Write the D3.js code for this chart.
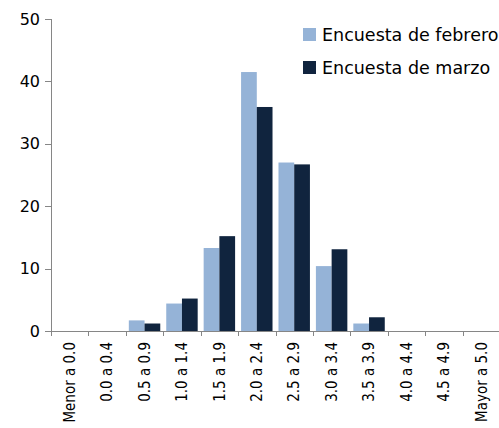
<!DOCTYPE html>
<meta charset="utf-8">
<style>
body { margin: 0; background: #fff; }
.axis path, .axis line { fill: none; stroke: #868686; stroke-width: 1px; shape-rendering: crispEdges; }
.axis text { font-family: "DejaVu Sans", sans-serif; fill: #000; }
.legend text { font-family: "DejaVu Sans", sans-serif; font-size: 17.5px; fill: #000; }
</style>
<svg width="499" height="428"></svg>
<script src="https://d3js.org/d3.v7.min.js"></script>
<script>
var categories = ["Menor a 0.0", "0.0 a 0.4", "0.5 a 0.9", "1.0 a 1.4", "1.5 a 1.9", "2.0 a 2.4",
                  "2.5 a 2.9", "3.0 a 3.4", "3.5 a 3.9", "4.0 a 4.4", "4.5 a 4.9", "Mayor a 5.0"];
var series = ["Encuesta de febrero", "Encuesta de marzo"];
var febrero = [0, 0, 1.7, 4.4, 13.3, 41.5, 27.0, 10.4, 1.2, 0, 0, 0];
var marzo = [0, 0, 1.2, 5.2, 15.2, 35.9, 26.7, 13.1, 2.2, 0, 0, 0];
var yTicks = [0, 10, 20, 30, 40, 50];
var colors = ["#95b3d7", "#10243e"];

var svg = d3.select("svg"),
    margin = {top: 19, right: -1, bottom: 97, left: 51},
    width = +svg.attr("width") - margin.left - margin.right,
    height = +svg.attr("height") - margin.top - margin.bottom;

var g = svg.append("g")
    .attr("transform", "translate(" + margin.left + "," + margin.top + ")");

var x0 = d3.scaleBand().domain(categories).range([0, width]);
var x1 = d3.scaleBand().domain(series).range([0, x0.bandwidth()]).paddingOuter(0.19);
var y = d3.scaleLinear().domain([0, 50]).range([height, 0]);

var data = categories.map(function(c, i) {
  return {cat: c, values: [{s: series[0], v: febrero[i]}, {s: series[1], v: marzo[i]}]};
});

// y axis
var yAxis = g.append("g")
    .attr("class", "axis")
    .call(d3.axisLeft(y).tickValues(yTicks).tickSizeOuter(0).tickSize(6).tickPadding(5));
yAxis.selectAll("text").style("font-size", "16px");

// bars
var groups = g.selectAll(".grp")
    .data(data)
  .enter().append("g")
    .attr("class", "grp")
    .attr("transform", function(d) { return "translate(" + x0(d.cat) + ",0)"; });

groups.selectAll("rect")
    .data(function(d) { return d.values; })
  .enter().append("rect")
    .attr("x", function(d) { return x1(d.s); })
    .attr("width", x1.bandwidth())
    .attr("y", function(d) { return y(d.v); })
    .attr("height", function(d) { return y(0) - y(d.v); })
    .attr("fill", function(d, i) { return colors[i]; });

// x axis: ticks between categories
var xAxis = g.append("g")
    .attr("class", "axis")
    .attr("transform", "translate(0," + height + ")")
    .call(d3.axisBottom(x0).tickSize(0).tickSizeOuter(0).tickPadding(8));

xAxis.selectAll(".tick text")
    .style("font-family", "'DejaVu Sans Condensed', 'DejaVu Sans', sans-serif")
    .style("font-size", "15px")
    .attr("transform", "rotate(-90)")
    .attr("text-anchor", "end")
    .attr("x", -11)
    .attr("y", 0)
    .attr("dy", "0.35em");

xAxis.selectAll(".sep")
    .data(categories)
  .enter().append("line")
    .attr("class", "sep")
    .attr("x1", function(d) { return Math.round(x0(d)) + 0.5; })
    .attr("x2", function(d) { return Math.round(x0(d)) + 0.5; })
    .attr("y1", 0)
    .attr("y2", 5)
    .attr("stroke", "#868686");

// legend
var legend = svg.append("g").attr("class", "legend")
    .attr("transform", "translate(303,28)");
var li = legend.selectAll("g")
    .data(series)
  .enter().append("g")
    .attr("transform", function(d, i) { return "translate(0," + (i * 33) + ")"; });
li.append("rect")
    .attr("width", 13).attr("height", 13)
    .attr("fill", function(d, i) { return colors[i]; });
li.append("text")
    .attr("x", 19).attr("y", 13)
    .text(function(d) { return d; });
</script>
